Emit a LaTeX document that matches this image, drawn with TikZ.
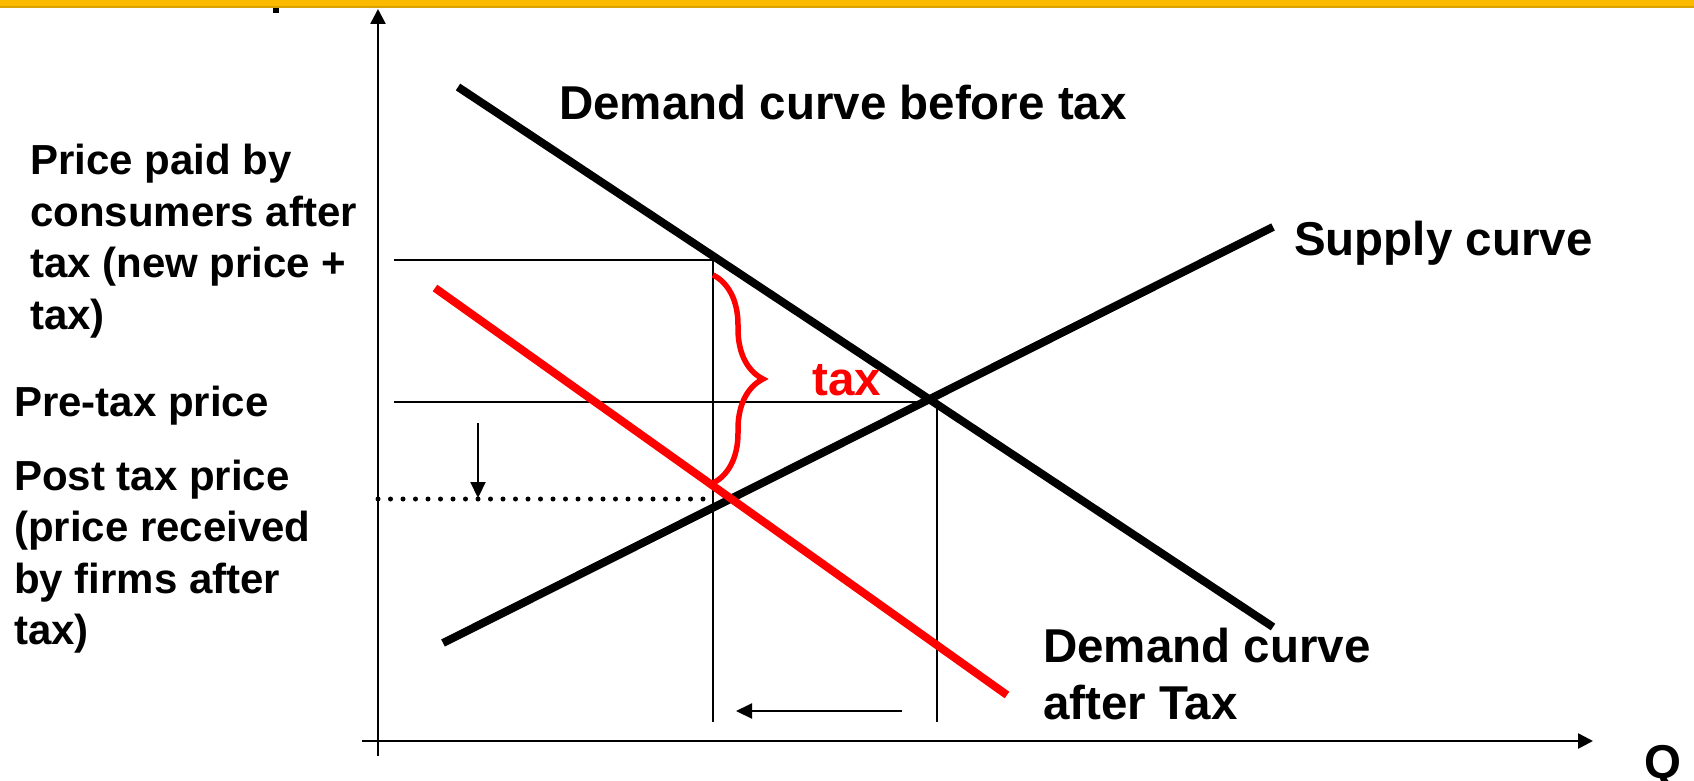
\documentclass[tikz,border=0pt]{standalone}
\usepackage{fontspec}
\setmainfont{Liberation Sans}
\usetikzlibrary{positioning, arrows.meta, decorations.pathreplacing}
\definecolor{barorange}{HTML}{FBB900}
\definecolor{baredge}{HTML}{D9A300}

\begin{document}
\begin{tikzpicture}[
        x=1pt, y=-1pt,
        curve/.style={line width=8pt},
        guide/.style={line width=2pt},
        axis/.style={line width=2.6pt, -{Triangle[length=15pt, width=15pt]}},
        arrow/.style={line width=2.2pt, -{Triangle[length=16pt, width=15pt]}},
        biglabel/.style={font=\bfseries\fontsize{47.5}{57}\selectfont, align=left, inner sep=0pt, anchor=west},
        sidelabel/.style={font=\bfseries\fontsize{42}{51.5}\selectfont, align=left, inner sep=0pt, anchor=west}
    ]
        \useasboundingbox (0,0) rectangle (1694,781);
        % Top bar
        \fill[barorange] (0,0) rectangle (1694,7);
        \draw[baredge, line width=1.2pt] (0,7) -- (1694,7);
        \fill (273,8) rectangle (279,13);

        % Points
        \coordinate (yfoot) at (378,756);
        \coordinate (ytop) at (378,9);
        \coordinate (xleft) at (362,741);
        \coordinate (xright) at (1593,741);
        \coordinate (dstart) at (458,87);
        \coordinate (dend) at (1273,627);
        \coordinate (sstart) at (443,643);
        \coordinate (send) at (1273,227);
        \coordinate (tstart) at (435,288);
        \coordinate (tend) at (1007,695);
        \coordinate (eq) at (931,402);

        % Axes
        \draw[axis] (yfoot) -- (ytop);
        \draw[axis] (xleft) -- (xright);

        % Guide lines
        \draw[guide] (394,260) -- (713,260) -- (713,722);
        \draw[guide] (394,402) -- (eq);
        \draw[guide] (937,404) -- (937,722);
        \draw[line width=5pt, line cap=round, dash pattern=on 0pt off 12.5pt] (378,499) -- (715,499);

        % Curves
        \draw[curve] (dstart) -- (dend);
        \draw[curve] (sstart) -- (send);
        \draw[curve, red] (tstart) -- (tend);

        % Brace and shifts
        \draw[red, line width=5.5pt, decorate, decoration={brace, amplitude=50pt}] (713,275) -- (713,483);
        \draw[arrow] (478,423) -- (478,498);
        \draw[arrow] (902,711) -- (736,711);

        % Labels
        \node[biglabel] (dbefore) at (559,103) {Demand curve before tax};
        \node[biglabel] (supply) at (1294,243) {Supply curve};
        \node[biglabel] (dafter) at (1043,674.5) {Demand curve\\after Tax};
        \node[biglabel, text=red] (tax) at (812,380) {tax};
        \node[biglabel, anchor=center] (q) at (1663,767) {Q};
        \node[sidelabel] (paid) at (30,241) {Price paid by\\consumers after\\tax (new price +\\tax)};
        \node[sidelabel] (pretax) at (14,406) {Pre-tax price};
        \node[sidelabel] (posttax) at (14,556.5) {Post tax price\\(price received\\by firms after\\tax)};
    \end{tikzpicture}
\end{document}
